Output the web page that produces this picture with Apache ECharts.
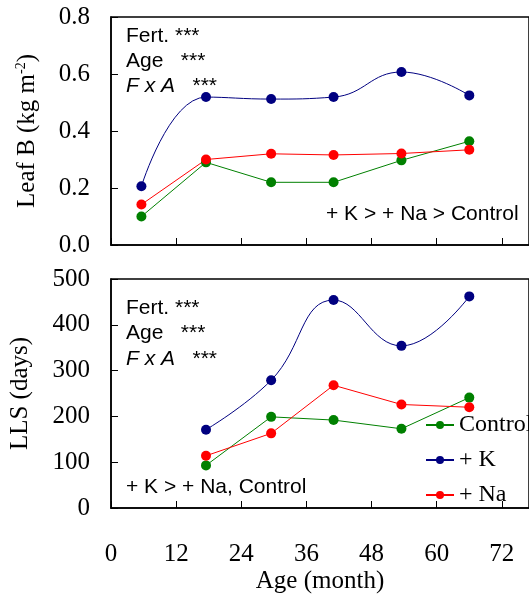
<!DOCTYPE html>
<html><head><meta charset="utf-8">
<script src="https://cdn.jsdelivr.net/npm/echarts@6/dist/echarts.min.js"></script>
<style>html,body{margin:0;padding:0;background:#fff}#c{width:529px;height:595px}</style>
</head><body><div id="c"></div>
<script>
// Top panel: Leaf B (kg m-2)
const monthsTop = [5.6, 17.5, 29.5, 41, 53.5, 66];
const leafControl = [0.10, 0.29, 0.22, 0.22, 0.297, 0.364];
const leafK = [0.206, 0.519, 0.512, 0.519, 0.607, 0.525];
const leafNa = [0.142, 0.300, 0.320, 0.316, 0.321, 0.334];
// Bottom panel: LLS (days)
const monthsBot = [17.5, 29.5, 41, 53.5, 66];
const llsControl = [93, 199, 192, 173, 241];
const llsK = [171, 279, 454, 354, 462];
const llsNa = [114, 163, 268, 226, 220];
const xTicks = [0, 12, 24, 36, 48, 60, 72];

const SERIF = '"Liberation Serif", "DejaVu Serif", serif';
const SANS = '"Liberation Sans", Arial, sans-serif';
const cGreen = '#008000', cBlue = '#000080', cRed = '#ff0000';

function pairs(xs, ys){ return xs.map((x,i)=>[x, ys[i]]); }
function ser(name, color, xi, xs, ys, smooth){
  return {name, type:'line', xAxisIndex:xi, yAxisIndex:xi, data:pairs(xs,ys),
    smooth: smooth ? 0.45 : false, symbol:'circle', symbolSize:10,
    itemStyle:{color}, lineStyle:{color, width:1}, emphasis:{disabled:true}};
}
function xAx(idx, showLabels){
  return {type:'value', gridIndex:idx, min:0, max:77, interval:12,
    axisLine:{show:true, lineStyle:{color:'#000', width:1.5}},
    axisTick:{show:true, inside:true, length:7, lineStyle:{color:'#000', width:1}},
    axisLabel:{show:showLabels, showMaxLabel:false, margin:34, color:'#000', fontFamily:SERIF, fontSize:25,
      formatter: v => xTicks.includes(v) ? String(v) : ''},
    splitLine:{show:false},
    name: showLabels ? 'Age (month)' : '', nameLocation:'middle', nameGap:61,
    nameTextStyle:{color:'#000', fontFamily:SERIF, fontSize:25}};
}
const annFont = '21px ' + SANS;
const richI = {i:{fontStyle:'italic', fontFamily:SANS, fontSize:21, fill:'#000'}};
const chart = echarts.init(document.getElementById('c'), null, {renderer:'canvas'});
chart.setOption({
  animation:false,
  grid:[
    {left:111, top:17, width:420, height:228, show:true, borderColor:'#000', borderWidth:1.5, backgroundColor:'transparent'},
    {left:111, top:279, width:420, height:230, show:true, borderColor:'#000', borderWidth:1.5, backgroundColor:'transparent'}
  ],
  xAxis:[xAx(0,false), xAx(1,true)],
  yAxis:[
    {type:'value', gridIndex:0, min:0, max:0.8, interval:0.2,
     axisLine:{show:true, lineStyle:{color:'#000', width:1.5}},
     axisTick:{show:true, inside:true, length:7, lineStyle:{color:'#000'}},
     axisLabel:{margin:21, color:'#000', fontFamily:SERIF, fontSize:25, formatter:v=>v.toFixed(1)},
     splitLine:{show:false},
     name:'Leaf B (kg m{sup|-2})', nameLocation:'middle', nameRotate:90, nameGap:71,
     nameTextStyle:{color:'#000', fontFamily:SERIF, fontSize:25,
       rich:{sup:{fontFamily:SERIF, fontSize:14, verticalAlign:'top', color:'#000', padding:[0,0,12,0]}}}},
    {type:'value', gridIndex:1, min:0, max:500, interval:100,
     axisLine:{show:true, lineStyle:{color:'#000', width:1.5}},
     axisTick:{show:true, inside:true, length:7, lineStyle:{color:'#000'}},
     axisLabel:{margin:21, color:'#000', fontFamily:SERIF, fontSize:25},
     splitLine:{show:false},
     name:'LLS (days)', nameLocation:'middle', nameRotate:90, nameGap:78,
     nameTextStyle:{color:'#000', fontFamily:SERIF, fontSize:25}}
  ],
  legend:{orient:'vertical', left:425, top:413, padding:0, itemWidth:28, itemHeight:10, itemGap:11,
    data:['Control','+ K','+ Na'],
    textStyle:{color:'#000', fontFamily:SERIF, fontSize:24, padding:[0,0,0,0]}},
  series:[
    ser('Control', cGreen, 0, monthsTop, leafControl, false),
    ser('+ K', cBlue, 0, monthsTop, leafK, true),
    ser('+ Na', cRed, 0, monthsTop, leafNa, false),
    ser('Control', cGreen, 1, monthsBot, llsControl, false),
    ser('+ K', cBlue, 1, monthsBot, llsK, true),
    ser('+ Na', cRed, 1, monthsBot, llsNa, false)
  ],
  graphic:[
    {type:'text', left:126, top:26, style:{text:'Fert. ***', font:annFont, fill:'#000'}},
    {type:'text', left:126, top:51, style:{text:'Age   ***', font:annFont, fill:'#000'}},
    {type:'text', left:126, top:76, style:{text:'{i|F x A}   ***', font:annFont, fill:'#000', rich:richI}},
    {type:'text', left:326, top:204, style:{text:'+ K > + Na > Control', font:annFont, fill:'#000'}},
    {type:'text', left:126, top:298, style:{text:'Fert. ***', font:annFont, fill:'#000'}},
    {type:'text', left:126, top:323, style:{text:'Age   ***', font:annFont, fill:'#000'}},
    {type:'text', left:126, top:349, style:{text:'{i|F x A}   ***', font:annFont, fill:'#000', rich:richI}},
    {type:'text', left:126, top:477, style:{text:'+ K > + Na, Control', font:annFont, fill:'#000'}}
  ]
});
</script></body></html>
